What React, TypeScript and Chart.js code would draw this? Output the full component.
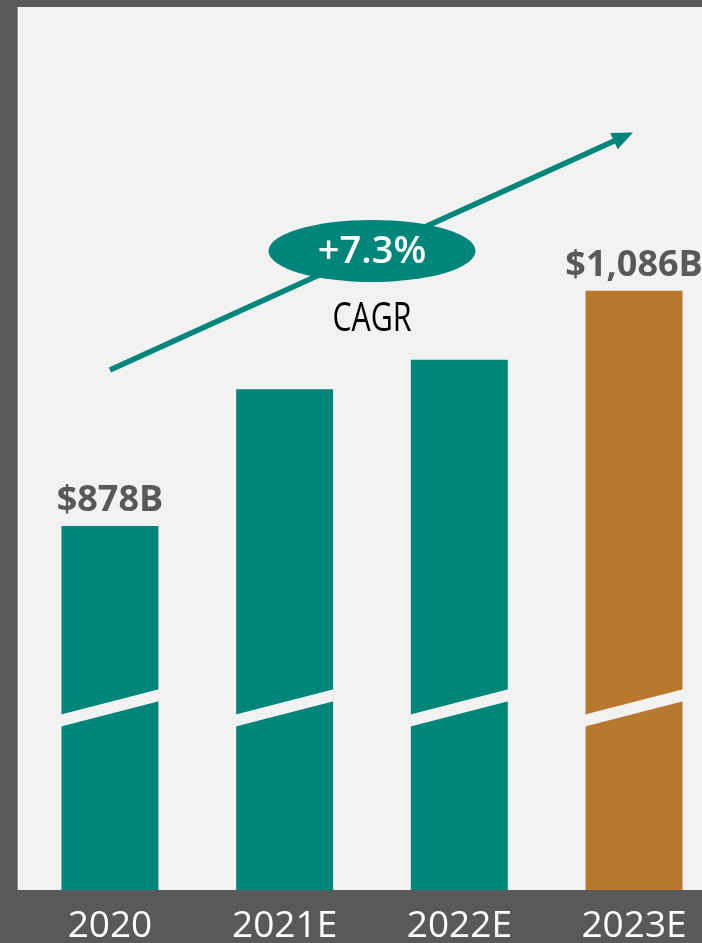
import { useEffect, useRef } from "react";
import { Chart, registerables } from "chart.js";

Chart.register(...registerables);

// ---- data ----
const categories = ["2020", "2021E", "2022E", "2023E"];
const values = [878, 999, 1025, 1086];
const valueLabels = ["$878B", "", "", "$1,086B"];
const barColors = ["#00857a", "#00857a", "#00857a", "#b8782e"];
const cagrLabel = "+7.3%";
const cagrCaption = "CAGR";
// value-axis window (axis is broken, so it does not start at zero)
const axisMin = 556;
const axisMax = 1337;
// where the axis-break stripe sits, in value units
const breakAt = 717;
// trend arrow: start (over first bar) and end (over last bar), value units
const arrowFrom = 1016;
const arrowTo = 1226;

const TEAL = "#00857a";
const DARK = "#58595b";
const PANEL = "#f2f2f2";
const LABEL = "#595959";

const W = 740;
const H = 943;

const decorPlugin = {
  id: "decor",
  beforeDraw(chart: any) {
    const { ctx, chartArea } = chart;
    ctx.save();
    ctx.fillStyle = DARK;
    ctx.fillRect(0, 0, chart.width, chart.height);
    ctx.fillStyle = PANEL;
    ctx.fillRect(chartArea.left - 5, chartArea.top, chart.width, chartArea.bottom - chartArea.top);
    ctx.restore();
  },
  afterDatasetsDraw(chart: any) {
    const { ctx } = chart;
    const xs = chart.scales.x;
    const ys = chart.scales.y;
    const meta = chart.getDatasetMeta(0);
    ctx.save();

    // axis-break stripes
    const yc = ys.getPixelForValue(breakAt);
    meta.data.forEach((el: any) => {
      const l = el.x - el.width / 2 - 0.5;
      const r = el.x + el.width / 2 + 0.5;
      const rise = el.width * 0.26;
      const t = 12;
      ctx.fillStyle = PANEL;
      ctx.beginPath();
      ctx.moveTo(l, yc + rise / 2 - t / 2);
      ctx.lineTo(r, yc - rise / 2 - t / 2);
      ctx.lineTo(r, yc - rise / 2 + t / 2);
      ctx.lineTo(l, yc + rise / 2 + t / 2);
      ctx.closePath();
      ctx.fill();
    });

    // value labels
    ctx.font = "bold 36px 'Open Sans'";
    ctx.fillStyle = LABEL;
    ctx.textAlign = "center";
    ctx.textBaseline = "alphabetic";
    meta.data.forEach((el: any, i: number) => {
      if (valueLabels[i]) ctx.fillText(valueLabels[i], el.x, el.y - 15);
    });

    // trend arrow
    const x0 = xs.getPixelForValue(0);
    const y0 = ys.getPixelForValue(arrowFrom);
    const x1 = xs.getPixelForValue(categories.length - 1) - 1;
    const y1 = ys.getPixelForValue(arrowTo);
    const ang = Math.atan2(y1 - y0, x1 - x0);
    const headL = 21;
    const headW = 9;
    ctx.strokeStyle = TEAL;
    ctx.lineWidth = 5.5;
    ctx.beginPath();
    ctx.moveTo(x0, y0);
    ctx.lineTo(x1 - Math.cos(ang) * (headL - 2), y1 - Math.sin(ang) * (headL - 2));
    ctx.stroke();
    ctx.fillStyle = TEAL;
    ctx.beginPath();
    ctx.moveTo(x1, y1);
    const bx = x1 - Math.cos(ang) * headL;
    const by = y1 - Math.sin(ang) * headL;
    ctx.lineTo(bx + Math.sin(ang) * headW, by - Math.cos(ang) * headW);
    ctx.lineTo(bx - Math.sin(ang) * headW, by + Math.cos(ang) * headW);
    ctx.closePath();
    ctx.fill();

    // CAGR bubble
    const cx = (xs.getPixelForValue(1) + xs.getPixelForValue(2)) / 2;
    const cy = y0 + (y1 - y0) * ((cx - x0) / (x1 - x0));
    ctx.fillStyle = TEAL;
    ctx.beginPath();
    ctx.ellipse(cx, cy, 103.5, 31, 0, 0, Math.PI * 2);
    ctx.fill();
    ctx.fillStyle = "#ffffff";
    ctx.font = "600 38px 'Open Sans'";
    ctx.textBaseline = "middle";
    ctx.fillText(cagrLabel, cx, cy + 1);

    ctx.fillStyle = "#000000";
    ctx.font = "40px 'Open Sans'";
    ctx.textBaseline = "alphabetic";
    ctx.save();
    ctx.translate(cx, cy + 80);
    ctx.scale(0.76, 1);
    ctx.fillText(cagrCaption, 0, 0);
    ctx.restore();

    ctx.restore();
  },
};

export default function App() {
  const ref = useRef<HTMLCanvasElement>(null);
  useEffect(() => {
    const canvas = ref.current!;
    const chart = new Chart(canvas, {
      type: "bar",
      data: {
        labels: categories,
        datasets: [
          {
            data: values,
            backgroundColor: barColors,
            borderWidth: 0,
            categoryPercentage: 1,
            barPercentage: 0.555,
          },
        ],
      },
      options: {
        animation: false,
        responsive: false,
        devicePixelRatio: 1,
        layout: { padding: { top: 7, left: 22.6, right: 18.6, bottom: 0 } },
        plugins: { legend: { display: false }, tooltip: { enabled: false } },
        scales: {
          x: {
            grid: { display: false, drawTicks: false },
            border: { display: false },
            ticks: {
              color: "#ffffff",
              font: { family: "'Open Sans'", size: 37, weight: 400 },
              padding: 14,
              maxRotation: 0,
            },
            afterFit: (scale: any) => {
              scale.height = 53;
            },
          },
          y: {
            display: false,
            min: axisMin,
            max: axisMax,
          },
        },
      },
      plugins: [decorPlugin],
    });
    return () => chart.destroy();
  }, []);

  return (
    <div
      style={{
        position: "fixed",
        left: 0,
        top: 0,
        width: 702,
        height: 943,
        overflow: "hidden",
        background: DARK,
      }}
    >
      <canvas ref={ref} width={W} height={H} style={{ display: "block", width: W, height: H }} />
    </div>
  );
}
